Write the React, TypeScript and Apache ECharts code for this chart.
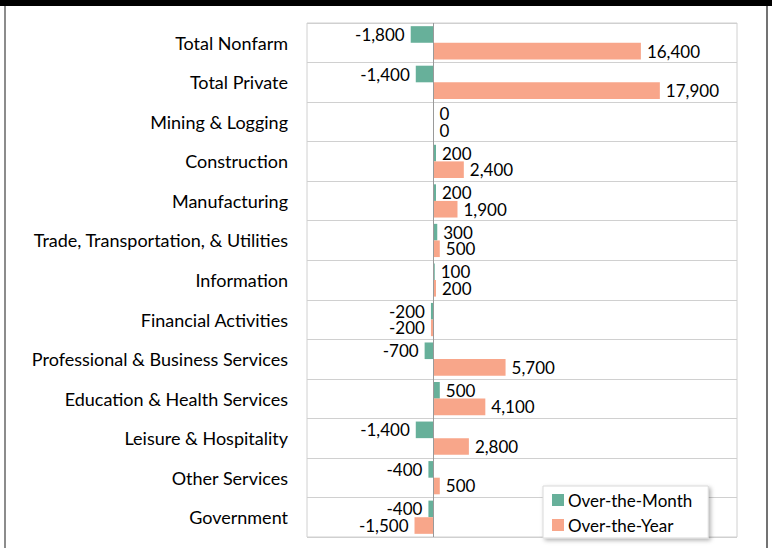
import React, { useEffect, useRef } from "react";
import * as echarts from "echarts";

const categories = [
  "Total Nonfarm",
  "Total Private",
  "Mining & Logging",
  "Construction",
  "Manufacturing",
  "Trade, Transportation, & Utilities",
  "Information",
  "Financial Activities",
  "Professional & Business Services",
  "Education & Health Services",
  "Leisure & Hospitality",
  "Other Services",
  "Government",
];

const overTheMonth = [-1800, -1400, 0, 200, 200, 300, 100, -200, -700, 500, -1400, -400, -400];
const overTheYear = [16400, 17900, 0, 2400, 1900, 500, 200, -200, 5700, 4100, 2800, 500, -1500];

const FONT = "Lato";
const GREEN = "#67B09A";
const SALMON = "#F8A68A";

const fmt = (v: number) => {
  const s = Math.abs(v).toLocaleString("en-US");
  return v < 0 ? "-" + s : s;
};

const makeData = (vals: number[]) =>
  vals.map((v) => ({
    value: v,
    label: {
      position: v < 0 ? "left" : "right",
    },
  }));

export default function App() {
  const ref = useRef<HTMLDivElement>(null);

  useEffect(() => {
    if (!ref.current) return;
    const chart = echarts.init(ref.current, undefined, { renderer: "svg" });
    const labelCommon = {
      show: true,
      distance: 6,
      color: "#000",
      fontFamily: FONT,
      fontSize: 17,
      formatter: (p: any) => fmt(p.value),
    };
    chart.setOption({
      animation: false,
      backgroundColor: "#fff",
      textStyle: { fontFamily: FONT },
      graphic: [
        { type: "rect", left: 0, top: 0, shape: { width: 772, height: 6 }, style: { fill: "#000" } },
        { type: "line", shape: { x1: 5, y1: 6, x2: 5, y2: 548 }, style: { stroke: "#666", lineWidth: 1.5 } },
        { type: "line", shape: { x1: 767, y1: 6, x2: 767, y2: 548 }, style: { stroke: "#444", lineWidth: 1.5 } },
      ],
      grid: {
        left: 307,
        right: 35,
        top: 23,
        bottom: 11,
        show: true,
        borderColor: "#d0d0d0",
        borderWidth: 1,
        backgroundColor: "transparent",
      },
      xAxis: {
        type: "value",
        min: -10000,
        max: 24000,
        axisLabel: { show: false },
        axisLine: { show: false },
        axisTick: { show: false },
        splitLine: { show: false },
      },
      yAxis: {
        type: "category",
        data: categories,
        inverse: true,
        axisLine: { show: false },
        axisTick: { show: false },
        axisLabel: {
          color: "#000",
          fontFamily: FONT,
          fontSize: 18,
          margin: 19,
        },
        splitLine: { show: true, lineStyle: { color: "#d0d0d0", width: 1 } },
      },
      legend: {
        orient: "vertical",
        left: 543,
        top: 486,
        itemWidth: 12,
        itemHeight: 12,
        itemGap: 5,
        padding: [4, 16, 3, 9],
        icon: "rect",
        backgroundColor: "#fff",
        borderColor: "#d9d9d9",
        borderWidth: 1,
        shadowColor: "rgba(0,0,0,0.3)",
        shadowBlur: 4,
        shadowOffsetX: 2,
        shadowOffsetY: 2,
        textStyle: { fontFamily: FONT, fontSize: 17, lineHeight: 20, color: "#000", padding: [0, 0, 0, -1] },
        data: ["Over-the-Month", "Over-the-Year"],
      },
      series: [
        {
          name: "Over-the-Month",
          type: "bar",
          data: makeData(overTheMonth),
          itemStyle: { color: GREEN },
          barGap: "0%",
          barCategoryGap: "16%",
          label: labelCommon,
          markLine: {
            silent: true,
            symbol: "none",
            label: { show: false },
            lineStyle: { color: "#9a9a9a", type: "solid", width: 1 },
            data: [{ xAxis: 0 }],
          },
        },
        {
          name: "Over-the-Year",
          type: "bar",
          data: makeData(overTheYear),
          itemStyle: { color: SALMON },
          barGap: "0%",
          barCategoryGap: "16%",
          label: labelCommon,
        },
      ],
    });
    return () => chart.dispose();
  }, []);

  return (
    <div
      ref={ref}
      style={{ position: "fixed", left: 0, top: 0, width: 772, height: 548 }}
    />
  );
}
